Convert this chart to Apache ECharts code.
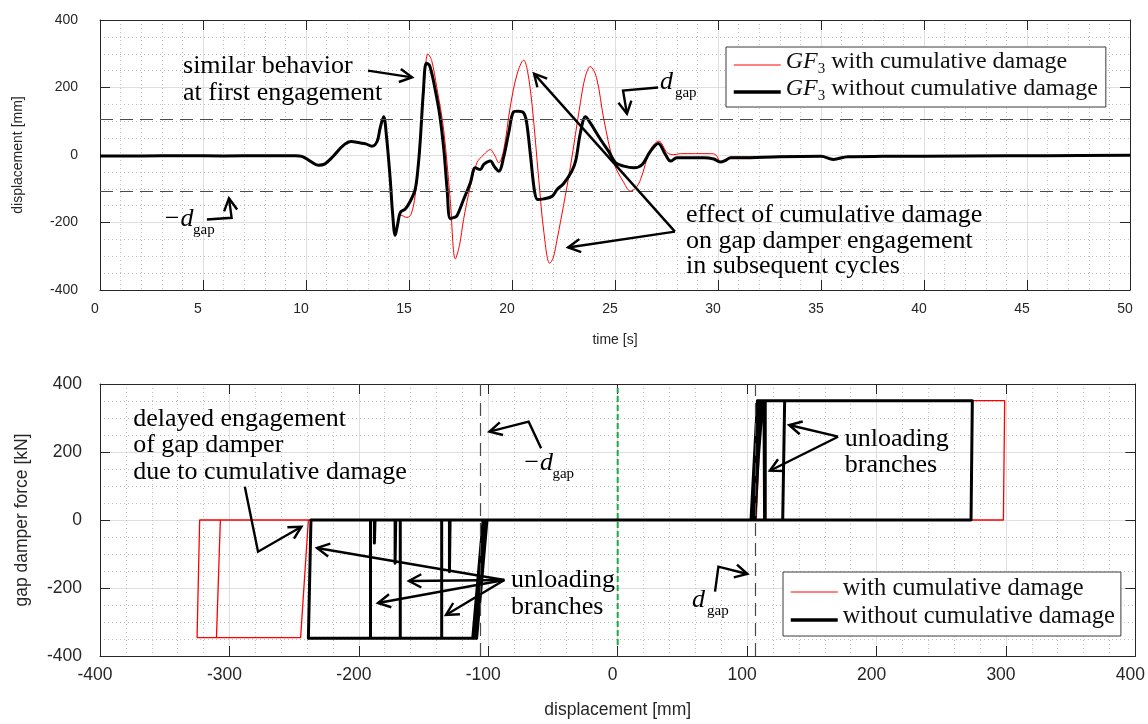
<!DOCTYPE html>
<html>
<head>
<meta charset="utf-8">
<title>Gap damper response</title>
<script src="https://cdn.jsdelivr.net/npm/echarts/dist/echarts.min.js"></script>
<style>
  html, body { margin: 0; padding: 0; background: #ffffff; }
  #chart { width: 1148px; height: 724px; }
</style>
</head>
<body>
<div id="chart"></div>
<script>
// ---- displacement time histories (time [s], displacement [mm]) ----
const tBlack = [0,2,4,6,8,9.5,9.8,10.2,10.6,10.9,11.3,11.8,12.2,12.6,12.9,13.2,13.45,13.6,13.77,13.9,14.09,14.2,14.33,14.45,14.58,14.82,15.06,15.3,15.45,15.55,15.7,15.84,16.0,16.25,16.5,16.7,16.85,17.0,17.2,17.33,17.65,17.98,18.22,18.46,18.63,18.95,19.15,19.36,19.6,19.84,20.08,20.3,20.55,20.7,20.9,21.1,21.25,21.54,21.95,22.19,22.5,22.9,23.1,23.32,23.57,23.8,24.3,24.7,25.03,25.43,25.92,26.32,26.72,27.1,27.45,27.7,28.0,29.3,29.8,30.1,30.4,30.6,31.1,33,35,35.6,36.3,38,42,46,50];
const dBlack = [-3,-3,-2,-3,-2,-2,-4,-18,-30,-27,-5,28,40,36,33,26,40,80,113,60,-73,-170,-238,-205,-170,-160,-137,-102,-30,46,190,272,265,200,115,10,-102,-188,-185,-180,-132,-82,-38,-43,-28,-18,-35,-48,-5,66,128,130,126,100,-3,-110,-132,-130,-122,-102,-85,-48,-15,66,113,95,46,10,-23,-33,-38,-28,11,34,1,-18,-8,-8,-12,-21,-15,-8,-8,-5,-4,-13,-5,-4,-3,-2,-1];

const tRed = [0,2,4,6,8,9.5,9.8,10.2,10.6,10.9,11.3,11.8,12.2,12.6,12.9,13.2,13.45,13.6,13.77,13.9,14.09,14.2,14.33,14.45,14.6,14.9,15.1,15.3,15.5,15.7,15.92,16.1,16.35,16.68,17.0,17.25,17.45,17.65,17.98,18.3,18.63,18.95,19.15,19.36,19.6,19.92,20.25,20.57,20.75,20.98,21.3,21.55,21.83,22.0,22.19,22.5,22.84,23.32,23.55,23.8,24.1,24.46,24.94,25.43,25.75,26.0,26.24,26.72,27.13,27.53,27.86,28.18,29.64,29.9,30.13,30.4,30.76,31.1,33,35,35.6,36.3,38,42,46,50];
const dRed = [-3,-3,-2,-3,-2,-2,-4,-18,-30,-27,-5,28,40,36,33,26,40,80,113,60,-73,-170,-238,-205,-178,-185,-176,-120,-10,170,300,280,200,76,-132,-308,-268,-191,-92,-23,1,16,0,-23,16,145,240,281,250,145,-73,-230,-321,-305,-250,-150,-33,155,230,262,230,105,-23,-82,-107,-98,-73,16,41,7,1,4,4,0,-20,-12,-5,-6,-4,-3,-13,-5,-4,-3,-2,-1];

// ---- gap damper force vs displacement (displacement [mm], force [kN]) ----
const hxBlack = [0,104,110,113,113.5,-104,-112,-239,-237,103,108,274,273,-103,-111,-191,-191,-188,-188,-187.5,-172,-172,-171.5,106,111,129,127.5,-102,-110,-168,-168,-101,-109,-136,-136,-130,-130,-129.5,105,112,114,114,0];
const hfBlack = [0,0,351,351,0,0,-348,-348,0,0,351,351,0,0,-348,-348,0,0,-68,0,0,-127,0,0,351,351,0,0,-348,-348,0,0,-348,-348,0,0,-152,0,0,351,351,0,0];
const hxRed = [0,106,110,113,113,107,111,299,298,-239,-245,-310,-307,-239,-245,-325,-323,282];
const hfRed = [0,0,351,351,0,0,351,351,0,0,-346,-346,0,0,-346,-346,0,0];

// zero-displacement reference line
const zeroLineX = [0, 0];
const zeroLineF = [-368, 388];

// gap size [mm]
const dGap = 106;

// axis tick values
const timeTicks = { min: 0, max: 50, step: 5 };
const dispTicks = { min: -400, max: 400, step: 200 };
const hystXTicks = { min: -400, max: 400, step: 100 };
const forceTicks = { min: -400, max: 400, step: 200 };

const zip = (a, b) => a.map((v, i) => [v, b[i]]);

const serif = '"Liberation Serif", "Times New Roman", serif';
const sans = '"Liberation Sans", Arial, Helvetica, sans-serif';
const ink = '#262626';

function valueAxis(o) {
  const horizontal = o.pos === 'bottom' || o.pos === 'top';
  return {
    type: 'value',
    gridIndex: o.gi,
    position: o.pos,
    min: o.ticks.min, max: o.ticks.max, interval: o.ticks.step,
    name: o.name || '',
    nameLocation: 'middle',
    nameGap: o.nameGap || 0,
    nameTextStyle: { fontFamily: sans, fontSize: o.nameSize || 14, color: ink },
    axisLine: { show: true, onZero: false, lineStyle: { color: ink, width: 1 } },
    axisTick: { show: true, inside: true, length: 10, lineStyle: { color: ink, width: 1 } },
    axisLabel: {
      show: !!o.labels, fontFamily: sans, fontSize: o.labelSize || 14, color: ink, margin: o.margin || 8,
      padding: horizontal ? [0, 10, 0, 0] : [0, 0, 10, 0]
    },
    splitLine: { show: !!o.gridLines, lineStyle: { color: '#dfdfdf', width: 1 } },
    minorTick: { show: false, splitNumber: o.minor || 5 },
    minorSplitLine: { show: !!o.gridLines, lineStyle: { color: '#c2c2c2', width: 1, type: [1, 3] } }
  };
}

const richLegend = {
  it: { fontFamily: serif, fontSize: 24, fontStyle: 'italic', color: '#111', verticalAlign: 'bottom', lineHeight: 24, padding: [0, 0, 3, 0] },
  sub: { fontFamily: serif, fontSize: 15, color: '#111', verticalAlign: 'bottom', lineHeight: 15 },
  rm: { fontFamily: serif, fontSize: 24, color: '#111', verticalAlign: 'bottom', lineHeight: 24, padding: [0, 0, 3, 0] },
  rb: { fontFamily: serif, fontSize: 24.5, color: '#111', verticalAlign: 'bottom', lineHeight: 24, padding: [0, 0, 3, 0] }
};

const legendBase = {
  orient: 'vertical',
  itemWidth: 47, itemHeight: 14, itemGap: 0,
  borderColor: '#3a3a3a', borderWidth: 1, backgroundColor: '#ffffff',
  itemStyle: { opacity: 0 },
  textStyle: { rich: richLegend },
  selectedMode: false
};

const thinKey = { lineStyle: { width: 1 } };
const thickKey = { lineStyle: { width: 3.5 } };

const option = {
  animation: false,
  backgroundColor: '#ffffff',
  grid: [
    { left: 100, top: 20, width: 1030, height: 270 },
    { left: 100, top: 384, width: 1037, height: 272 }
  ],
  xAxis: [
    valueAxis({ gi: 0, pos: 'bottom', ticks: timeTicks, labels: true, labelSize: 14, margin: 12, gridLines: true, minor: 5, name: 'time [s]', nameGap: 43, nameSize: 14 }),
    valueAxis({ gi: 0, pos: 'top', ticks: timeTicks }),
    valueAxis({ gi: 1, pos: 'bottom', ticks: hystXTicks, labels: true, labelSize: 17.5, margin: 10, gridLines: true, minor: 5, name: 'displacement [mm]', nameGap: 45, nameSize: 17.5 }),
    valueAxis({ gi: 1, pos: 'top', ticks: hystXTicks })
  ],
  yAxis: [
    valueAxis({ gi: 0, pos: 'left', ticks: dispTicks, labels: true, labelSize: 14, margin: 22, gridLines: true, minor: 4, name: 'displacement [mm]', nameGap: 75, nameSize: 14 }),
    valueAxis({ gi: 0, pos: 'right', ticks: dispTicks }),
    valueAxis({ gi: 1, pos: 'left', ticks: forceTicks, labels: true, labelSize: 17.5, margin: 18, gridLines: true, minor: 4, name: 'gap damper force [kN]', nameGap: 69, nameSize: 17.5 }),
    valueAxis({ gi: 1, pos: 'right', ticks: forceTicks })
  ],
  legend: [
    Object.assign({}, legendBase, {
      left: 726, top: 47,
      padding: [3, 8, 3, 6],
      data: [
        Object.assign({ name: 'GF3 with cumulative damage' }, thinKey),
        Object.assign({ name: 'GF3 without cumulative damage' }, thickKey)
      ],
      formatter: name => '{it|GF}{sub|3}{rm|' + name.slice(3) + '}'
    }),
    Object.assign({}, legendBase, {
      left: 783, top: 572,
      padding: [4, 6, 4, 6],
      data: [
        Object.assign({ name: 'with cumulative damage' }, thinKey),
        Object.assign({ name: 'without cumulative damage' }, thickKey)
      ],
      formatter: name => '{rb|' + name + '}'
    })
  ],
  series: [
    {
      name: 'GF3 with cumulative damage', type: 'line', xAxisIndex: 0, yAxisIndex: 0,
      data: zip(tRed, dRed), showSymbol: false, symbol: 'none', smooth: 0.35,
      lineStyle: { color: '#ff0000', width: 1 }, itemStyle: { color: '#ff0000' }, z: 3
    },
    {
      name: 'GF3 without cumulative damage', type: 'line', xAxisIndex: 0, yAxisIndex: 0,
      data: zip(tBlack, dBlack), showSymbol: false, symbol: 'none', smooth: 0.35,
      lineStyle: { color: '#000000', width: 3, join: 'round' }, itemStyle: { color: '#000000' }, z: 4,
      markLine: {
        silent: true, symbol: ['none', 'none'], label: { show: false },
        lineStyle: { color: '#4a4a4a', width: 1.2, type: [13, 7] },
        data: [{ yAxis: dGap }, { yAxis: -dGap }]
      }
    },
    {
      name: 'zero', type: 'line', xAxisIndex: 2, yAxisIndex: 2,
      data: zip(zeroLineX, zeroLineF), showSymbol: false, symbol: 'none',
      lineStyle: { color: '#1fa84a', width: 2, type: [6, 3] }, z: 2
    },
    {
      name: 'with cumulative damage', type: 'line', xAxisIndex: 2, yAxisIndex: 2,
      data: zip(hxRed, hfRed), showSymbol: false, symbol: 'none',
      lineStyle: { color: '#ff0000', width: 1.3 }, itemStyle: { color: '#ff0000' }, z: 3
    },
    {
      name: 'without cumulative damage', type: 'line', xAxisIndex: 2, yAxisIndex: 2,
      data: zip(hxBlack, hfBlack), showSymbol: false, symbol: 'none',
      lineStyle: { color: '#000000', width: 3, join: 'round' }, itemStyle: { color: '#000000' }, z: 4,
      markLine: {
        silent: true, symbol: ['none', 'none'], label: { show: false },
        lineStyle: { color: '#4a4a4a', width: 1.2, type: [13, 7] },
        data: [{ xAxis: dGap }, { xAxis: -dGap }]
      }
    }
  ]
};

const chart = echarts.init(document.getElementById('chart'), null, { renderer: 'canvas' });
chart.setOption(option);

// ---- annotations, anchored in data coordinates ----
const TOP = { xAxisIndex: 0, yAxisIndex: 0 };
const BOT = { xAxisIndex: 2, yAxisIndex: 2 };
const px = (g, p) => chart.convertToPixel(g, p);

const notes = [
  { g: TOP, at: [4.03, 262], lh: 27, lines: ['similar behavior', 'at first engagement'] },
  { g: TOP, at: [28.45, -179], lh: 25.5, lines: ['effect of cumulative damage', 'on gap damper engagement', 'in subsequent cycles'] },
  { g: BOT, at: [-374.4, 297], lh: 26.5, lines: ['delayed engagement', 'of gap damper', 'due to cumulative damage'] },
  { g: BOT, at: [-82.4, -176.5], lh: 27, lines: ['unloading', 'branches'] },
  { g: BOT, at: [175.5, 237.3], lh: 26, lines: ['unloading', 'branches'] }
];

const gapLabels = [
  { g: TOP, at: [3.06, -191], neg: true },
  { g: TOP, at: [27.18, 215], neg: false },
  { g: BOT, at: [-73.6, 167.6], neg: true },
  { g: BOT, at: [57.5, -235.3], neg: false }
];

const arrows = [
  { g: TOP, path: [[13.01, 250], [15.15, 230]] },
  { g: TOP, path: [[27.09, 200], [25.39, 191], [25.58, 122]] },
  { g: TOP, path: [[5.19, -191], [6.39, -186], [6.26, -128]] },
  { g: TOP, path: [[27.91, -227], [22.72, -274]] },
  { g: TOP, path: [[27.91, -227], [21.07, 241]] },
  { g: BOT, path: [[-288.1, 97.6], [-277.9, -93.2], [-244.4, -19.7]] },
  { g: BOT, path: [[-59.2, 210.9], [-68.8, 289.1], [-99.1, 259.7]] },
  { g: BOT, path: [[-87.6, -176.5], [-232.3, -82.3]] },
  { g: BOT, path: [[-87.6, -176.5], [-161.3, -179.4]] },
  { g: BOT, path: [[-87.6, -176.5], [-185.2, -244.1]] },
  { g: BOT, path: [[-87.6, -176.5], [-132.7, -279.4]] },
  { g: BOT, path: [[170.3, 245], [132.5, 279.4]] },
  { g: BOT, path: [[170.3, 245], [117.6, 145]] },
  { g: BOT, path: [[75.2, -210.9], [77.8, -137.3], [100.2, -158.8]] }
];

const elements = [];
const noteFont = '26px ' + serif;

notes.forEach(n => {
  const p = px(n.g, n.at);
  n.lines.forEach((s, i) => {
    elements.push({
      type: 'text', silent: true, z: 100,
      style: { text: s, x: p[0], y: p[1] + i * n.lh, font: noteFont, fill: '#000',
               textAlign: 'left', textVerticalAlign: 'middle', align: 'left', verticalAlign: 'middle' }
    });
  });
});

gapLabels.forEach(l => {
  const p = px(l.g, l.at);
  const main = (l.neg ? '\u2212' : '') + 'd';
  const subX = p[0] + (l.neg ? 30 : 15);
  elements.push({
    type: 'text', silent: true, z: 100,
    style: { text: main, x: p[0], y: p[1], font: 'italic 26px ' + serif, fill: '#000',
             textAlign: 'left', textVerticalAlign: 'middle', align: 'left', verticalAlign: 'middle' }
  });
  elements.push({
    type: 'text', silent: true, z: 100,
    style: { text: 'gap', x: subX, y: p[1] + 11, font: '15px ' + serif, fill: '#000',
             textAlign: 'left', textVerticalAlign: 'middle', align: 'left', verticalAlign: 'middle' }
  });
});

arrows.forEach(a => {
  const pts = a.path.map(q => px(a.g, q));
  elements.push({
    type: 'polyline', silent: true, z: 100,
    shape: { points: pts },
    style: { stroke: '#000', lineWidth: 2.4, fill: null, lineJoin: 'miter' }
  });
  const tip = pts[pts.length - 1];
  const prev = pts[pts.length - 2];
  const dx = tip[0] - prev[0], dy = tip[1] - prev[1];
  const len = Math.hypot(dx, dy);
  const ux = dx / len, uy = dy / len;
  const L = 14, ang = 28 * Math.PI / 180;
  const arm = s => {
    const c = Math.cos(s * ang), sn = Math.sin(s * ang);
    const rx = ux * c - uy * sn, ry = ux * sn + uy * c;
    return [tip[0] - L * rx, tip[1] - L * ry];
  };
  elements.push({
    type: 'polyline', silent: true, z: 100,
    shape: { points: [arm(1), tip, arm(-1)] },
    style: { stroke: '#000', lineWidth: 2.4, fill: null, lineJoin: 'miter' }
  });
});

chart.setOption({ graphic: { elements: elements } });
</script>
</body>
</html>
